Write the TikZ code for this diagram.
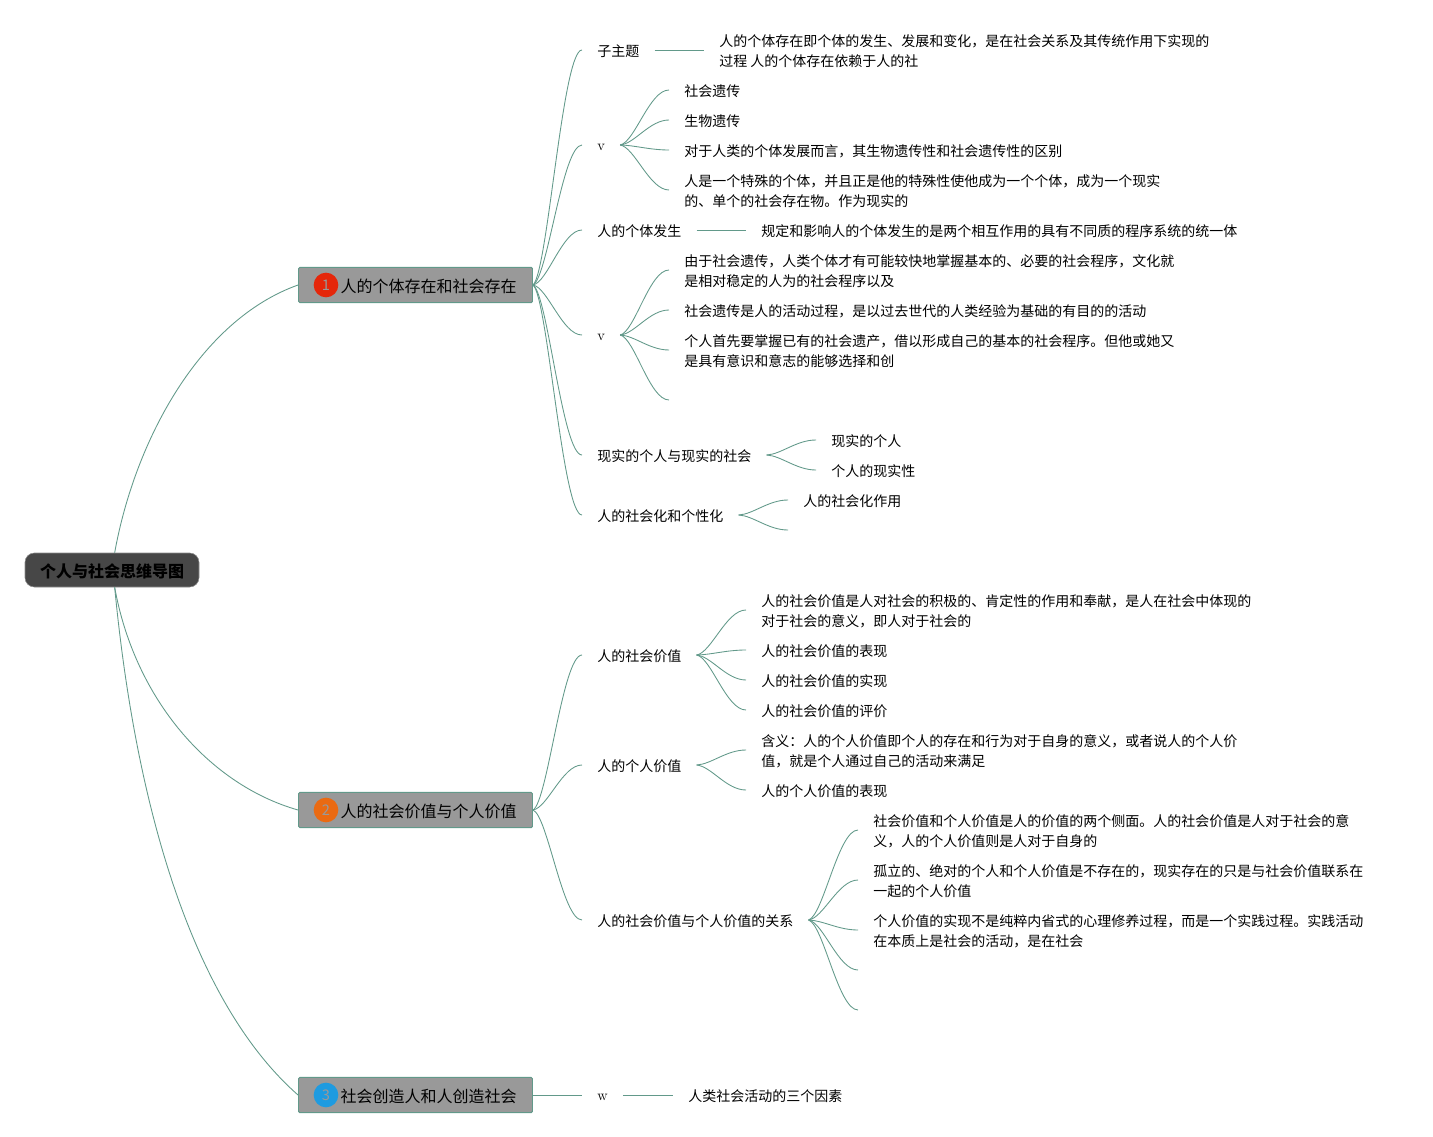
\documentclass[tikz,border=0pt]{standalone}
\usepackage{fontspec}
\newfontfamily\cjk{Noto Sans CJK SC}
\usetikzlibrary{calc}
\definecolor{linkgreen}{HTML}{62998A}
\tikzset{
    nudge/.style={text height=\ht\pgfnodeparttextbox+1.5pt},
    leaf/.style={nudge,anchor=west,inner xsep=11.25pt,inner ysep=0pt,align=left,font=\cjk\fontsize{10.5}{15}\selectfont},
    latin/.style={leaf,text height=8pt,text depth=0pt,font=\fontsize{11}{15}\selectfont},
    topic/.style={nudge,draw=linkgreen,line width=.7pt,fill=black!40,rounded corners=1pt,minimum height=26.5pt,text width=151.5pt,inner xsep=12pt,inner ysep=0pt,align=right,font=\cjk\fontsize{12}{15}\selectfont},
    badge/.style={circle,minimum size=18.5pt,inner sep=0pt,text=white!60!black,font=\cjk\fontsize{11}{11}\selectfont},
    link/.style={linkgreen,line width=.65pt},
}
\begin{document}
\begin{tikzpicture}[x=.75pt,y=-.75pt]
    \useasboundingbox (0,0) rectangle (1433,1137);
    \node[nudge,draw=black!45,fill=black!72,rounded corners=7pt,minimum width=130.5pt,minimum height=25.5pt,inner sep=0pt,font=\cjk\bfseries\fontsize{12}{15}\selectfont] (root) at (112,570) {个人与社会思维导图};

    \node[topic] (topicA) at (415.5,285) {人的个体存在和社会存在};
    \node[topic] (topicB) at (415.5,810) {人的社会价值与个人价值};
    \node[topic] (topicC) at (415.5,1095) {社会创造人和人创造社会};
    \node[badge,fill={rgb,255:red,229;green,38;blue,10}] (badgeA) at (326,285) {1};
    \node[badge,fill={rgb,255:red,234;green,106;blue,18}] (badgeB) at (326,810) {2};
    \node[badge,fill={rgb,255:red,30;green,155;blue,224}] (badgeC) at (326,1095) {3};

    % first topic
    \node[leaf] (subject) at (582,50) {子主题};
    \node[leaf] (subjectText) at (704,50) {人的个体存在即个体的发生、发展和变化，是在社会关系及其传统作用下实现的\\过程 人的个体存在依赖于人的社};
    \node[latin] (vA) at (582,145) {v};
    \node[leaf] (vA1) at (669,90) {社会遗传};
    \node[leaf] (vA2) at (669,120) {生物遗传};
    \node[leaf] (vA3) at (669,150) {对于人类的个体发展而言，其生物遗传性和社会遗传性的区别};
    \node[leaf] (vA4) at (669,190) {人是一个特殊的个体，并且正是他的特殊性使他成为一个个体，成为一个现实\\的、单个的社会存在物。作为现实的};
    \node[leaf] (genesis) at (582,230) {人的个体发生};
    \node[leaf] (genesisText) at (746,230) {规定和影响人的个体发生的是两个相互作用的具有不同质的程序系统的统一体};
    \node[latin] (vB) at (582,335) {v};
    \node[leaf] (vB1) at (669,270) {由于社会遗传，人类个体才有可能较快地掌握基本的、必要的社会程序，文化就\\是相对稳定的人为的社会程序以及};
    \node[leaf] (vB2) at (669,310) {社会遗传是人的活动过程，是以过去世代的人类经验为基础的有目的的活动};
    \node[leaf] (vB3) at (669,350) {个人首先要掌握已有的社会遗产，借以形成自己的基本的社会程序。但他或她又\\是具有意识和意志的能够选择和创};
    \coordinate (vB4) at (669,400);
    \node[leaf] (real) at (582,455) {现实的个人与现实的社会};
    \node[leaf] (real1) at (816,440) {现实的个人};
    \node[leaf] (real2) at (816,470) {个人的现实性};
    \node[leaf] (social) at (582,515) {人的社会化和个性化};
    \node[leaf] (social1) at (788,500) {人的社会化作用};
    \coordinate (social2) at (788,530);

    % second topic
    \node[leaf] (worth) at (582,655) {人的社会价值};
    \node[leaf] (worth1) at (746,610) {人的社会价值是人对社会的积极的、肯定性的作用和奉献，是人在社会中体现的\\对于社会的意义，即人对于社会的};
    \node[leaf] (worth2) at (746,650) {人的社会价值的表现};
    \node[leaf] (worth3) at (746,680) {人的社会价值的实现};
    \node[leaf] (worth4) at (746,710) {人的社会价值的评价};
    \node[leaf] (self) at (582,765) {人的个人价值};
    \node[leaf] (self1) at (746,750) {含义：人的个人价值即个人的存在和行为对于自身的意义，或者说人的个人价\\值，就是个人通过自己的活动来满足};
    \node[leaf] (self2) at (746,790) {人的个人价值的表现};
    \node[leaf] (both) at (582,920) {人的社会价值与个人价值的关系};
    \node[leaf] (both1) at (858,830) {社会价值和个人价值是人的价值的两个侧面。人的社会价值是人对于社会的意\\义，人的个人价值则是人对于自身的};
    \node[leaf] (both2) at (858,880) {孤立的、绝对的个人和个人价值是不存在的，现实存在的只是与社会价值联系在\\一起的个人价值};
    \node[leaf] (both3) at (858,930) {个人价值的实现不是纯粹内省式的心理修养过程，而是一个实践过程。实践活动\\在本质上是社会的活动，是在社会};
    \coordinate (both4) at (858,970);
    \coordinate (both5) at (858,1010);

    % third topic
    \node[latin] (w) at (582,1095) {w};
    \node[leaf] (wText) at (673,1095) {人类社会活动的三个因素};

    \draw[link] ([xshift=2pt]root.north) .. controls (135,440) and (200,320) .. (topicA.west);
    \draw[link] ([xshift=2pt]root.south) .. controls (135,700) and (210,785) .. (topicB.west);
    \draw[link] ([xshift=2pt]root.south) .. controls (135,800) and (190,1000) .. (topicC.west);

    % every curved branch starts nearly level, climbs and arrives level
    \foreach \a/\b in {topicA/subject,topicA/vA,topicA/genesis,topicA/vB,topicA/real,topicA/social,
        vA/vA1,vA/vA2,vA/vA3,vA/vA4,vB/vB1,vB/vB2,vB/vB3,vB/vB4,real/real1,real/real2,social/social1,social/social2,
        topicB/worth,topicB/self,topicB/both,worth/worth1,worth/worth2,worth/worth3,worth/worth4,self/self1,self/self2,
        both/both1,both/both2,both/both3,both/both4,both/both5}{
        \draw[link] let \p1=(\a.east),\p2=(\b.west) in
            (\p1) .. controls ({\x1+.3*(\x2-\x1)},{\y1+.05*(\y2-\y1)}) and ({\x1+.6*(\x2-\x1)},\y2) .. (\p2);
    }
    \foreach \a/\b in {subject/subjectText,genesis/genesisText,topicC/w,w/wText}{
        \draw[link] (\a.east) -- (\b.west);
    }
\end{tikzpicture}
\end{document}
